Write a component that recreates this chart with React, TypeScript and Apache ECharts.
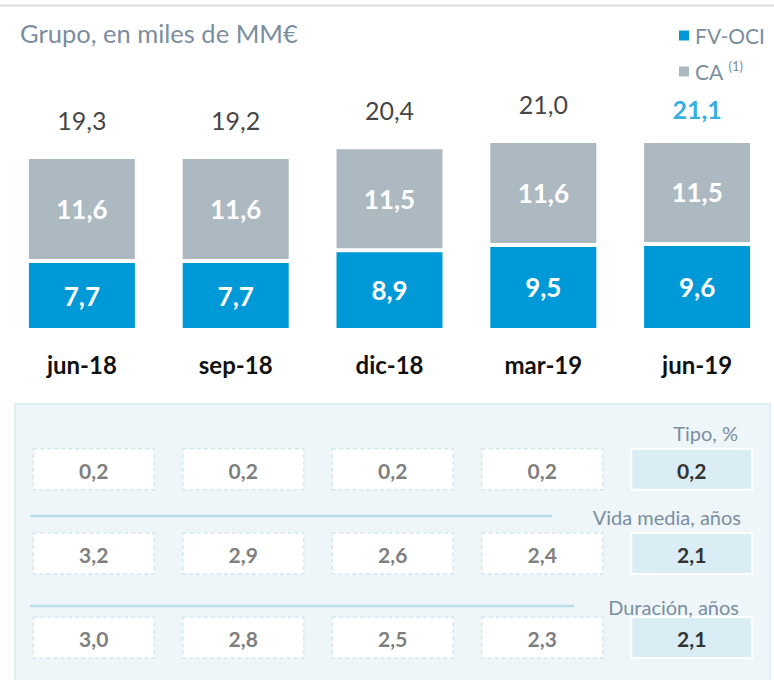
import React, { useEffect, useRef } from "react";
import * as echarts from "echarts";

const categories = ["jun-18", "sep-18", "dic-18", "mar-19", "jun-19"];
const fvOci = [7.7, 7.7, 8.9, 9.5, 9.6];
const ca = [11.6, 11.6, 11.5, 11.6, 11.5];
const totals = [19.3, 19.2, 20.4, 21.0, 21.1];
const tipo = [0.2, 0.2, 0.2, 0.2, 0.2];
const vidaMedia = [3.2, 2.9, 2.6, 2.4, 2.1];
const duracion = [3.0, 2.8, 2.5, 2.3, 2.1];
const rowLabels = ["Tipo, %", "Vida media, años", "Duración, años"];
const seriesNames = ["FV-OCI", "CA"];

const FONT = "Lato, 'Open Sans', sans-serif";
const BLUE = "#0099d8";
const GRAY = "#adb9c1";
const SLATE = "#7b8ea0";

const fmt = (v: number) => v.toFixed(1).replace(".", ",");

export default function App() {
  const ref = useRef<HTMLDivElement>(null);
  useEffect(() => {
    if (!ref.current) return;
    const chart = echarts.init(ref.current, null, { renderer: "svg" });
    const tableRows = [tipo, vidaMedia, duracion];
    const cells: number[][] = [];
    tableRows.forEach((row, r) => row.forEach((v, c) => cells.push([c, r, v])));
    const stackTops = fvOci.map((v, i) => +(v + ca[i]).toFixed(1));

    const rowLabelText = (text: string, x: number, y: number) => ({
      type: "text",
      x,
      y,
      z: 10,
      style: { text, align: "right", verticalAlign: "middle", font: `20px ${FONT}`, fill: SLATE },
    });

    const option: any = {
      animation: false,
      backgroundColor: "#ffffff",
      textStyle: { fontFamily: FONT },
      title: {
        text: "Grupo, en miles de MM€",
        left: 15,
        top: 15,
        textStyle: { fontFamily: FONT, fontSize: 25.5, fontWeight: "normal", color: SLATE },
      },
      legend: {
        data: seriesNames,
        orient: "vertical",
        left: 672,
        top: 20,
        itemWidth: 12,
        itemHeight: 12,
        itemGap: 13,
        icon: "rect",
        selectedMode: false,
        formatter: (name: string) => (name === "CA" ? "CA {sup|(1)}" : name),
        textStyle: {
          fontFamily: FONT,
          fontSize: 21,
          color: SLATE,
          rich: {
            sup: { fontFamily: FONT, fontSize: 13, color: SLATE, padding: [0, 0, 12, 0] },
          },
        },
      },
      grid: [
        { left: 5, width: 772, top: 106, height: 224 },
        { left: 19, width: 747.5, top: 427, height: 264 },
      ],
      xAxis: [
        {
          type: "category",
          gridIndex: 0,
          data: categories,
          axisLine: { show: false },
          axisTick: { show: false },
          axisLabel: {
            margin: 22,
            fontFamily: FONT,
            fontSize: 24,
            fontWeight: "bold",
            color: "#111111",
          },
        },
        { type: "category", gridIndex: 1, data: categories, show: false },
      ],
      yAxis: [
        { type: "value", gridIndex: 0, min: 0, max: 25, show: false, splitLine: { show: false } },
        { type: "category", gridIndex: 1, data: rowLabels, inverse: true, show: false },
      ],
      graphic: {
        elements: [
          {
            type: "line",
            shape: { x1: 0, y1: 5.5, x2: 774, y2: 5.5 },
            style: { stroke: "#dcdcdc", lineWidth: 2 },
            z: 0,
          },
          {
            type: "rect",
            shape: { x: 15, y: 404, width: 755, height: 300 },
            style: { fill: "#eef6f9", stroke: "#d6eaf2", lineWidth: 1.5 },
            z: 0,
          },
          {
            type: "line",
            shape: { x1: 30, y1: 516, x2: 552, y2: 516 },
            style: { stroke: "#b9dfeb", lineWidth: 2.5 },
            z: 1,
          },
          {
            type: "line",
            shape: { x1: 30, y1: 606, x2: 574, y2: 606 },
            style: { stroke: "#b9dfeb", lineWidth: 2.5 },
            z: 1,
          },
          rowLabelText(rowLabels[0], 738, 433),
          rowLabelText(rowLabels[1], 741, 517),
          rowLabelText(rowLabels[2], 739, 607),
        ],
      },
      series: [
        {
          name: "FV-OCI",
          type: "bar",
          stack: "total",
          xAxisIndex: 0,
          yAxisIndex: 0,
          barWidth: 110,
          data: fvOci,
          itemStyle: { color: BLUE, borderColor: "#ffffff", borderWidth: 2 },
          label: {
            show: true,
            position: "inside",
            formatter: (p: any) => fmt(p.value),
            fontFamily: FONT,
            fontSize: 26,
            fontWeight: "bold",
            color: "#ffffff",
          },
        },
        {
          name: "CA",
          type: "bar",
          stack: "total",
          xAxisIndex: 0,
          yAxisIndex: 0,
          barWidth: 110,
          data: ca,
          itemStyle: { color: GRAY, borderColor: "#ffffff", borderWidth: 2 },
          label: {
            show: true,
            position: "inside",
            formatter: (p: any) => fmt(p.value),
            fontFamily: FONT,
            fontSize: 26,
            fontWeight: "bold",
            color: "#ffffff",
          },
        },
        {
          name: "Total",
          type: "scatter",
          xAxisIndex: 0,
          yAxisIndex: 0,
          symbolSize: 1,
          itemStyle: { color: "rgba(0,0,0,0)" },
          silent: true,
          data: stackTops.map((v, i) =>
            i === stackTops.length - 1
              ? { value: v, label: { fontWeight: "bold", color: BLUE, distance: 19 } }
              : v
          ),
          label: {
            show: true,
            position: "top",
            distance: 24,
            formatter: (p: any) => fmt(totals[p.dataIndex]),
            fontFamily: FONT,
            fontSize: 25,
            color: "#111111",
          },
        },
        {
          name: "Tabla",
          type: "custom",
          xAxisIndex: 1,
          yAxisIndex: 1,
          silent: true,
          z: 2,
          data: cells,
          renderItem: (params: any, api: any) => {
            const col = api.value(0);
            const row = api.value(1);
            const val = api.value(2);
            const c = api.coord([col, row]);
            const hl = col === categories.length - 1;
            const w = 121;
            const h = 41;
            return {
              type: "group",
              children: [
                {
                  type: "rect",
                  shape: { x: c[0] - w / 2, y: c[1] - h / 2, width: w, height: h },
                  style: hl
                    ? { fill: "#daedf4", stroke: "#ffffff", lineWidth: 2 }
                    : { fill: "#ffffff", stroke: "#d3e7ef", lineWidth: 1.5, lineDash: [4, 3] },
                },
                {
                  type: "text",
                  x: c[0],
                  y: c[1] + 1,
                  style: {
                    text: fmt(val),
                    align: "center",
                    verticalAlign: "middle",
                    font: `bold 21px ${FONT}`,
                    fill: hl ? "#333333" : "#7f7f7f",
                  },
                },
              ],
            };
          },
        },
      ],
    };
    chart.setOption(option);
    return () => chart.dispose();
  }, []);
  return (
    <div
      ref={ref}
      style={{ position: "fixed", left: 0, top: 0, width: 774, height: 680 }}
    />
  );
}
